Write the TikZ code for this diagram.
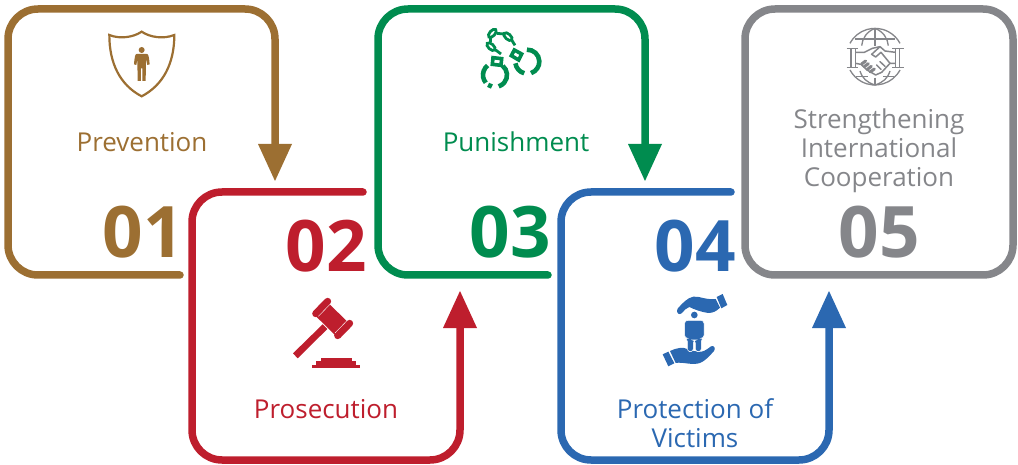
\documentclass[tikz,border=0pt]{standalone}
\usepackage{fontspec}
\setmainfont{Open Sans}
\definecolor{cbrown}{HTML}{9C6F32}
\definecolor{cred}{HTML}{BE1E2D}
\definecolor{cgreen}{HTML}{008C4F}
\definecolor{cblue}{HTML}{2B68B1}
\definecolor{cgray}{HTML}{85868A}
\tikzset{
  track/.style={line width=7.5pt,line cap=round,rounded corners=30pt},
  lbl/.style={font=\fontsize{26}{29}\selectfont,align=center,inner sep=0pt},
  num/.style={font=\fontsize{71}{71}\selectfont\bfseries,inner sep=0pt},
}
\begin{document}
\begin{tikzpicture}[x=1pt,y=-1pt]
\useasboundingbox (0,0) rectangle (1018,465);
% tracks
\coordinate (a1s) at (180,275); \coordinate (a1e) at (275,146);
\coordinate (a2s) at (363,192); \coordinate (a2e) at (460,326);
\coordinate (a3s) at (548,275); \coordinate (a3e) at (645,146);
\coordinate (a4s) at (731,192); \coordinate (a4e) at (829,326);
\draw[track,cbrown] (a1s) -- (8,275) -- (8,9) -- (275,9) -- (a1e);
\fill[cbrown] (258,144) -- (292,144) -- (275,181) -- cycle;
\draw[track,cred] (a2s) -- (192,192) -- (192,460) -- (460,460) -- (a2e);
\fill[cred] (443,328) -- (477,328) -- (460,291) -- cycle;
\draw[track,cgreen] (a3s) -- (378,275) -- (378,9) -- (645,9) -- (a3e);
\fill[cgreen] (628,144) -- (662,144) -- (645,181) -- cycle;
\draw[track,cblue] (a4s) -- (561,192) -- (561,460) -- (829,460) -- (a4e);
\fill[cblue] (812,328) -- (846,328) -- (829,291) -- cycle;
\draw[track,cgray] (745,275) -- (745,9) -- (1013,9) -- (1013,275) -- cycle;
% labels
\node[lbl,text=cbrown] (t1) at (142,142) {Prevention};
\node[num,text=cbrown] (n1) at (143,232) {01};
\node[lbl,text=cred] (t2) at (326,409) {Prosecution};
\node[num,text=cred] (n2) at (326,246) {02};
\node[lbl,text=cgreen] (t3) at (516,142) {Punishment};
\node[num,text=cgreen] (n3) at (510,232) {03};
\node[lbl,text=cblue] (t4) at (695,423.5) {Protection of\\Victims};
\node[num,text=cblue] (n4) at (695,246) {04};
\node[lbl,text=cgray] (t5) at (879,150.5) {Strengthening\\International\\Cooperation};
\node[num,text=cgray] (n5) at (879,232) {05};
% shield
\begin{scope}[shift={(90,20)},x=0.3333pt,y=-0.3333pt]
\draw[cbrown,line width=2.2pt,line join=miter] (155,35) .. controls (130,52) and (90,58) .. (58,45)
  .. controls (58,130) and (90,195) .. (155,229) .. controls (220,195) and (253,130) .. (253,45)
  .. controls (220,58) and (180,52) .. (155,35) -- cycle;
\fill[cbrown] (155,90) circle (9);
\fill[cbrown] (140,102) -- (170,102) .. controls (175,102) and (177,108) .. (179,133) -- (172,135) -- (168,118)
  -- (167,183) -- (157,183) -- (157,145) -- (153,145) -- (153,183) -- (143,183) -- (142,118) -- (139,135) -- (132,133)
  .. controls (134,108) and (136,102) .. (140,102) -- cycle;
\end{scope}
% gavel
\begin{scope}[shift={(280,290)},x=0.3333pt,y=-0.3333pt]
\fill[cred] (39,190) -- (128,103) -- (142,117) -- (53,205) -- cycle;
\fill[cred] (142,36) -- (207,100) -- (170,140) -- (105,76) -- cycle;
\draw[cred,line width=7pt,line cap=round] (107,71) -- (143,34);
\draw[cred,line width=7pt,line cap=round] (173,137) -- (209,100);
\draw[white,line width=0.4pt] (115,79) -- (151,42) (165,129) -- (201,92);
\fill[cred] (122,203) rectangle (215,215);
\fill[cred] (108,212) rectangle (228,226);
\fill[cred] (97,224) rectangle (240,234);
\end{scope}
% handcuffs
\begin{scope}[shift={(465,20)},x=0.3333pt,y=-0.3333pt,cgreen]
\draw[line width=4.6pt] (90,165) ++(-50:36) arc[start angle=-50,end angle=72,radius=36];
\draw[line width=4.6pt] (90,165) ++(105:36) arc[start angle=105,end angle=125,radius=36];
\draw[line width=4.6pt] (90,165) ++(140:36) arc[start angle=140,end angle=232,radius=36];
\draw[line width=4.6pt] (187,125) ++(-92:36) arc[start angle=-92,end angle=72,radius=36];
\draw[line width=4.6pt] (187,125) ++(105:36) arc[start angle=105,end angle=172,radius=36];
\draw[line width=3.6pt] (148,90) -- (170,102) -- (161,120) -- (139,107) -- cycle;
\draw[line width=3.6pt] (84,113) -- (110,116) -- (108,136) -- (82,133) -- cycle;
\draw[line width=2.8pt,shift={(82,40)},rotate=48] (0,0) ellipse[x radius=15,y radius=8];
\draw[line width=2.8pt,shift={(129,50)},rotate=-42] (0,0) ellipse[x radius=15,y radius=8];
\draw[line width=2.8pt,shift={(78,80)},rotate=-42] (0,0) ellipse[x radius=15,y radius=8];
\draw[line width=2.8pt] (92,90) -- (108,102);
\draw[line width=2.8pt] (95,40) -- (116,42);
\draw[line width=2.8pt] (140,60) -- (150,76);
\draw[line width=2.8pt] (77,55) -- (77,65);
\end{scope}
% hands and person
\begin{scope}[shift={(650,285)},x=0.3333pt,y=-0.3333pt,cblue]
\fill (200,36) -- (218,27) -- (232,60) -- (214,70) -- cycle;
\fill (197,42) .. controls (165,45) and (150,33) .. (130,35) .. controls (112,38) and (96,56) .. (82,72) .. controls (78,85) and (88,92) .. (96,84) .. controls (102,76) and (108,70) .. (118,66)
 .. controls (135,74) and (150,80) .. (175,84) .. controls (190,84) and (200,78) .. (210,68) -- cycle;
\fill (38,208) -- (55,200) -- (73,235) -- (55,244) -- cycle;
\fill (60,198) .. controls (80,188) and (100,186) .. (112,192) .. controls (125,198) and (140,200) .. (155,200) .. controls (165,198) and (175,190) .. (183,184) .. controls (192,180) and (198,190) .. (192,198)
 .. controls (178,214) and (165,228) .. (150,234) .. controls (125,242) and (100,230) .. (77,234) -- cycle;
\fill (133,90) circle (10);
\fill[draw=white,line width=0.5pt,rounded corners=3pt] (104,106) -- (162,106) -- (162,160) -- (154,160) -- (154,200) -- (136,200) -- (136,165) -- (130,165) -- (130,200) -- (112,200) -- (112,160) -- (104,160) -- cycle;
\end{scope}
% globe and handshake
\begin{scope}[shift={(835,15)},x=0.3333pt,y=-0.3333pt,cgray,line width=1.3pt]
\draw (120,125) ++(208:85) arc[start angle=208,end angle=332,radius=85];
\draw (120,125) ++(28:85) arc[start angle=28,end angle=152,radius=85];
\draw (120,40) -- (120,92);
\draw (120,188) -- (120,210);
\draw (120,40) .. controls (95,50) and (82,70) .. (80,92);
\draw (120,40) .. controls (145,50) and (158,70) .. (160,92);
\draw (60,72) -- (180,72);
\draw (120,210) .. controls (95,202) and (82,190) .. (75,168);
\draw (120,210) .. controls (145,202) and (158,190) .. (165,168);
\draw (62,184) -- (100,184);
\draw (145,184) -- (178,184);
\draw[line width=1.6pt] (35,101) -- (70,101) (35,158) -- (70,158) (48,101) -- (48,158) (61,101) -- (61,158);
\draw[line width=1.6pt] (171,101) -- (206,101) (171,158) -- (206,158) (181,101) -- (181,158) (194,101) -- (194,158);
\draw[line width=1.5pt,line join=round] (61,112) -- (88,112) -- (112,100) -- (135,95) -- (150,108) -- (181,112);
\draw[line width=1.5pt,line join=round] (181,145) -- (165,145) -- (140,172) -- (122,180) -- (96,165) -- (78,148) -- (61,145);
\draw[line width=1.5pt,line join=round] (135,95) -- (110,118) -- (122,126) -- (138,112) -- (165,145);
\draw[line width=3pt,line cap=round] (80,147) -- (92,138) (88,155) -- (100,146) (97,163) -- (109,154) (106,171) -- (118,162);
\draw[line width=1.5pt,line cap=round] (125,150) -- (138,163) (135,140) -- (150,154);
\end{scope}
\end{tikzpicture}
\end{document}
